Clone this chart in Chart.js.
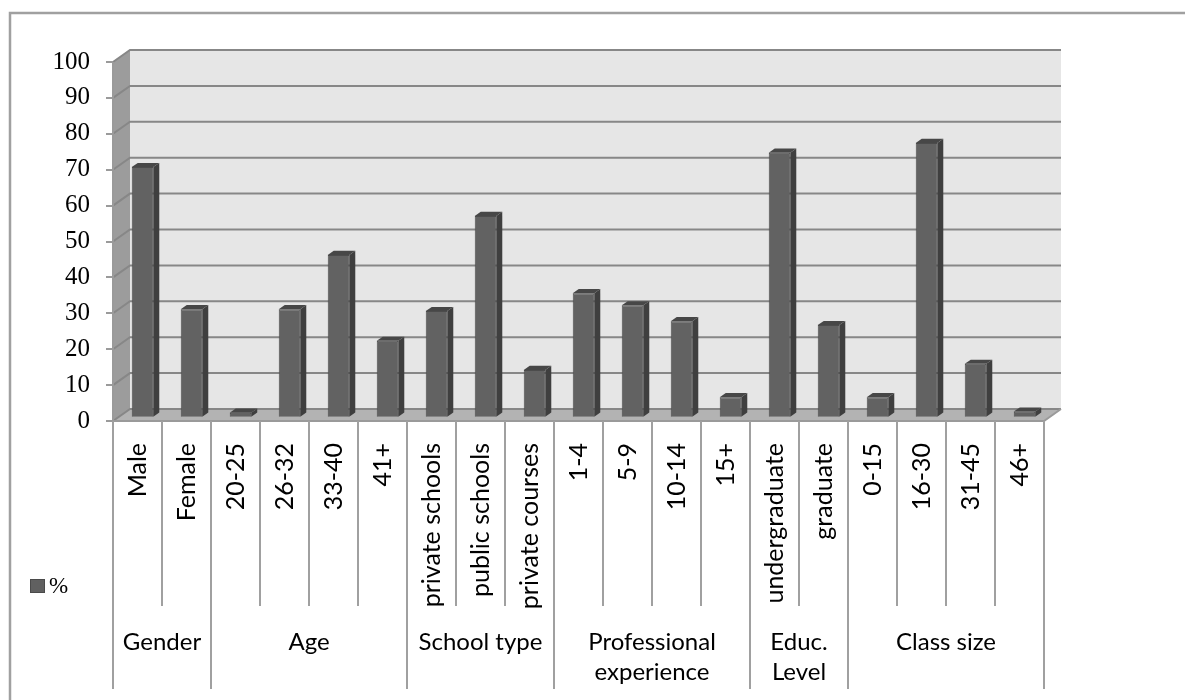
<!DOCTYPE html>
<html>
<head>
<meta charset="utf-8">
<script src="https://cdn.jsdelivr.net/npm/chart.js@4"></script>
<style>
    html, body { margin: 0; padding: 0; background: #fff; }
    #wrap { width: 1185px; height: 700px; position: relative; }
</style>
</head>
<body>
<div id="wrap"><canvas id="chart"></canvas></div>
<script>
// categories and values (percent)
const categories = ['Male', 'Female', '20-25', '26-32', '33-40', '41+',
    'private schools', 'public schools', 'private courses',
    '1-4', '5-9', '10-14', '15+', 'undergraduate', 'graduate',
    '0-15', '16-30', '31-45', '46+'];
const percentValues = [69.8, 30.2, 1.4, 30.2, 45.3, 21.4,
    29.7, 56.2, 13.3,
    34.7, 31.3, 26.9, 5.7, 73.8, 25.8,
    5.7, 76.5, 15.0, 1.7];
const groupNames = [['Gender'], ['Age'], ['School type'], ['Professional', 'experience'], ['Educ.', 'Level'], ['Class size']];
const groupSizes = [2, 4, 3, 4, 2, 4];
const seriesLabel = '%';
const yMin = 0, yMax = 100, yStep = 10;

const DX = 17, DY = 12;          // depth of the 3D walls
const BAR_DX = 6, BAR_DY = 4.2;  // depth of each bar
const BAR_SHIFT_X = 5, BAR_SHIFT_Y = -3.3;
const SANS = 'Lato, "Open Sans", sans-serif';

const threeD = {
    id: 'threeD',
    beforeDraw(chart) {
        const { ctx, chartArea: a, scales } = chart;
        const L = a.left, R = a.right, T = a.top, B = a.bottom;
        ctx.save();
        // back wall
        ctx.fillStyle = '#e6e6e6';
        ctx.fillRect(L + DX, T - DY, R - L, B - T);
        // side wall
        ctx.fillStyle = '#9c9c9c';
        ctx.beginPath();
        ctx.moveTo(L, T); ctx.lineTo(L + DX, T - DY); ctx.lineTo(L + DX, B - DY); ctx.lineTo(L, B);
        ctx.closePath(); ctx.fill();
        // floor
        ctx.fillStyle = '#b3b3b3';
        ctx.beginPath();
        ctx.moveTo(L, B); ctx.lineTo(R, B); ctx.lineTo(R + DX, B - DY); ctx.lineTo(L + DX, B - DY);
        ctx.closePath(); ctx.fill();
        // gridlines
        ctx.lineWidth = 2;
        scales.y.ticks.forEach(t => {
            const y = scales.y.getPixelForValue(t.value);
            ctx.strokeStyle = '#878787';
            ctx.beginPath();
            ctx.moveTo(L, y); ctx.lineTo(L + DX, y - DY); ctx.lineTo(R + DX, y - DY);
            ctx.stroke();
        });
        // axis edges
        ctx.strokeStyle = '#9a9a9a';
        ctx.beginPath();
        ctx.moveTo(L, T); ctx.lineTo(L, B); ctx.lineTo(R, B); ctx.lineTo(R + DX, B - DY);
        ctx.stroke();
        ctx.restore();
    },
    beforeDatasetsDraw(chart) {
        chart.ctx.save();
        chart.ctx.translate(BAR_SHIFT_X, BAR_SHIFT_Y);
    },
    afterDatasetsDraw(chart) {
        const ctx = chart.ctx;
        chart.getDatasetMeta(0).data.forEach(bar => {
            const { x, y, base, width } = bar.getProps(['x', 'y', 'base', 'width'], true);
            const l = x - width / 2, r = x + width / 2;
            ctx.fillStyle = '#3f3f3f';
            ctx.beginPath();
            ctx.moveTo(r, y); ctx.lineTo(r + BAR_DX, y - BAR_DY); ctx.lineTo(r + BAR_DX, base - BAR_DY); ctx.lineTo(r, base);
            ctx.closePath(); ctx.fill();
            ctx.fillStyle = '#474747';
            ctx.beginPath();
            ctx.moveTo(l, y); ctx.lineTo(l + BAR_DX, y - BAR_DY); ctx.lineTo(r + BAR_DX, y - BAR_DY); ctx.lineTo(r, y);
            ctx.closePath(); ctx.fill();
        });
        ctx.restore();
    },
    afterDraw(chart) {
        const { ctx, chartArea: a, scales } = chart;
        const xs = scales.x;
        const n = categories.length;
        const catW = (a.right - a.left) / n;
        const edge = i => xs.getPixelForValue(0) - catW / 2 + i * catW;
        ctx.save();
        // category separators
        const groupEdges = [0];
        groupSizes.reduce((s, g) => { groupEdges.push(s + g); return s + g; }, 0);
        ctx.strokeStyle = '#a0a0a0';
        ctx.lineWidth = 2;
        for (let i = 0; i <= n; i++) {
            const x = Math.round(edge(i));
            ctx.beginPath();
            ctx.moveTo(x, a.bottom);
            ctx.lineTo(x, groupEdges.includes(i) ? 689 : 606);
            ctx.stroke();
        }
        // group labels
        ctx.fillStyle = '#000';
        ctx.font = '24px ' + SANS;
        ctx.textAlign = 'center';
        ctx.textBaseline = 'middle';
        groupNames.forEach((lines, g) => {
            const cx = (edge(groupEdges[g]) + edge(groupEdges[g + 1])) / 2;
            lines.forEach((txt, k) => ctx.fillText(txt, cx, 642 + k * 30));
        });
        // legend
        ctx.fillStyle = '#606060';
        ctx.strokeStyle = '#4a4a4a';
        ctx.lineWidth = 1;
        ctx.fillRect(30, 579, 15, 14);
        ctx.strokeRect(30.5, 579.5, 14, 13);
        ctx.fillStyle = '#000';
        ctx.font = '23px "Liberation Serif", serif';
        ctx.textAlign = 'left';
        ctx.fillText(chart.data.datasets[0].label, 49, 587);
        // outer frame
        ctx.strokeStyle = '#a0a0a0';
        ctx.lineWidth = 2.5;
        ctx.beginPath();
        ctx.moveTo(10, 700); ctx.lineTo(10, 13); ctx.lineTo(1185, 13);
        ctx.stroke();
        ctx.restore();
    }
};

new Chart(document.getElementById('chart'), {
    type: 'bar',
    data: {
        labels: categories,
        datasets: [{
            label: seriesLabel,
            data: percentValues,
            backgroundColor: '#626262',
            borderColor: '#4c4c4c',
            borderWidth: 1,
            barPercentage: 0.44,
            categoryPercentage: 1
        }]
    },
    options: {
        responsive: true,
        maintainAspectRatio: false,
        animation: false,
        layout: { padding: { top: 62, right: 141, bottom: 0, left: 0 } },
        plugins: { legend: { display: false }, tooltip: { enabled: false } },
        scales: {
            x: {
                grid: { display: false },
                border: { display: false },
                ticks: {
                    autoSkip: false,
                    maxRotation: 90,
                    minRotation: 90,
                    padding: 14,
                    color: '#000',
                    font: { family: SANS, size: 25 }
                },
                afterFit: scale => { scale.height = 279; }
            },
            y: {
                min: yMin,
                max: yMax,
                grid: { drawOnChartArea: false, drawTicks: true, tickLength: 7, color: '#9a9a9a', lineWidth: 2 },
                border: { display: false },
                ticks: {
                    stepSize: yStep,
                    padding: 16,
                    color: '#000',
                    font: { family: '"Liberation Serif", serif', size: 25 }
                },
                afterFit: scale => { scale.width = 113; }
            }
        }
    },
    plugins: [threeD]
});
</script>
</body>
</html>
